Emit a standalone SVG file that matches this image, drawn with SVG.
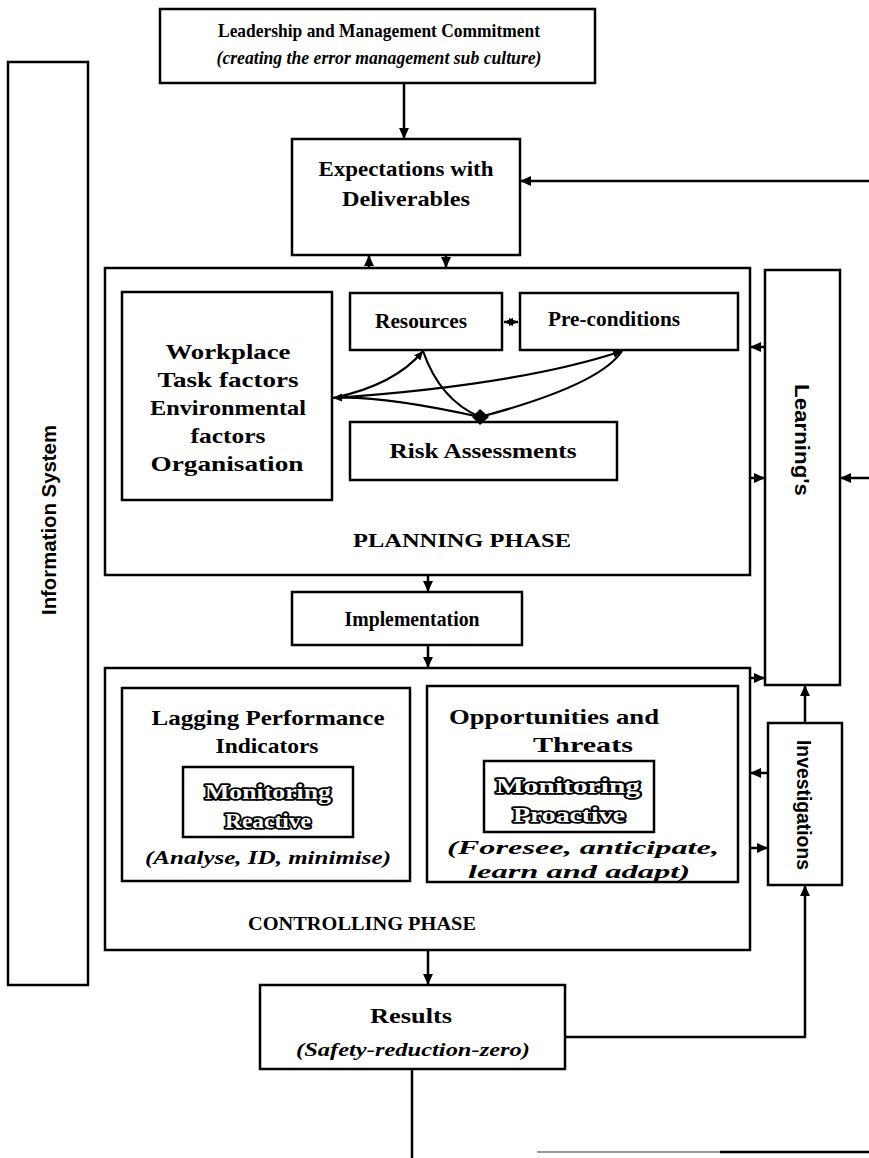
<svg xmlns="http://www.w3.org/2000/svg" width="869" height="1158" viewBox="0 0 869 1158">
  <style>
    .box { fill: #fff; stroke: #000; stroke-width: 2.5; }
    .t { font-family: "Liberation Serif", "Times New Roman", serif; font-weight: bold; font-size: 21px; fill: #000; text-anchor: middle; }
    .tb { font-family: "Liberation Serif", "Times New Roman", serif; font-weight: bold; font-size: 22px; fill: #000; text-anchor: middle; }
    .ts { font-family: "Liberation Serif", "Times New Roman", serif; font-weight: bold; font-size: 19px; fill: #000; text-anchor: middle; }
    .ti { font-family: "Liberation Serif", "Times New Roman", serif; font-weight: bold; font-style: italic; font-size: 19px; fill: #000; text-anchor: middle; }
    .tis { font-family: "Liberation Serif", "Times New Roman", serif; font-weight: bold; font-style: italic; font-size: 18px; fill: #000; text-anchor: middle; }
    .ph { font-family: "Liberation Serif", "Times New Roman", serif; font-weight: bold; font-size: 19px; fill: #000; text-anchor: middle; }
    .side { font-family: "Liberation Sans", Arial, sans-serif; font-weight: bold; font-size: 21px; fill: #000; text-anchor: middle; }
    .mon { font-family: "Liberation Serif", "Times New Roman", serif; font-weight: bold; font-size: 21px; fill: #fff; stroke: #000; stroke-width: 3.5; paint-order: stroke; stroke-linejoin: round; text-anchor: middle; }
    .c { fill: none; stroke: #000; stroke-width: 2.5; }
    .cv { fill: none; stroke: #000; stroke-width: 2.2; }
  </style>
  <defs>
    <marker id="arr" viewBox="0 0 10 10" refX="10" refY="5" markerWidth="11" markerHeight="11" markerUnits="userSpaceOnUse" orient="auto">
      <path d="M0,0.5 L10,5 L0,9.5 z" fill="#000"/>
    </marker>
    <marker id="arrs" viewBox="0 0 10 10" refX="10" refY="5" markerWidth="9" markerHeight="9" markerUnits="userSpaceOnUse" orient="auto-start-reverse">
      <path d="M0,0.5 L10,5 L0,9.5 z" fill="#000"/>
    </marker>
  </defs>

  <rect width="869" height="1158" fill="#fff"/>

  <!-- Left and right side bands -->
  <g id="information-system">
    <rect class="box" x="8" y="62" width="80" height="923"/>
    <text class="side" transform="translate(56,520) rotate(-90)" textLength="190" lengthAdjust="spacingAndGlyphs">Information System</text>
  </g>
  <g id="learnings">
    <rect class="box" x="765" y="270" width="75" height="415"/>
    <text class="side" transform="translate(795,440) rotate(90)" textLength="112" lengthAdjust="spacingAndGlyphs">Learning's</text>
  </g>
  <g id="investigations">
    <rect class="box" x="768" y="723" width="74" height="162"/>
    <text class="side" transform="translate(797,805) rotate(90)" textLength="130" lengthAdjust="spacingAndGlyphs">Investigations</text>
  </g>

  <!-- Top chain -->
  <g id="leadership">
    <rect class="box" x="160" y="9" width="435" height="74"/>
    <text class="ts" x="379" y="37" textLength="322" lengthAdjust="spacingAndGlyphs">Leadership and Management Commitment</text>
    <text class="tis" x="379" y="64" textLength="325" lengthAdjust="spacingAndGlyphs">(creating the error management sub culture)</text>
  </g>
  <g id="expectations">
    <rect class="box" x="292" y="139" width="228" height="116"/>
    <text class="t" x="406" y="176" textLength="175" lengthAdjust="spacingAndGlyphs">Expectations with</text>
    <text class="t" x="406" y="206" textLength="128" lengthAdjust="spacingAndGlyphs">Deliverables</text>
  </g>

  <!-- Planning phase -->
  <g id="planning-phase">
    <rect class="box" x="105" y="268" width="645" height="307"/>
    <text class="ph" x="462" y="547" textLength="218" lengthAdjust="spacingAndGlyphs">PLANNING PHASE</text>
  </g>
  <g id="workplace">
    <rect class="box" x="122" y="292" width="210" height="208"/>
    <text class="tb" x="228" y="359" textLength="125" lengthAdjust="spacingAndGlyphs">Workplace</text>
    <text class="tb" x="228" y="387" textLength="141" lengthAdjust="spacingAndGlyphs">Task factors</text>
    <text class="tb" x="228" y="415" textLength="156" lengthAdjust="spacingAndGlyphs">Environmental</text>
    <text class="tb" x="228" y="443" textLength="75" lengthAdjust="spacingAndGlyphs">factors</text>
    <text class="tb" x="227" y="471" textLength="153" lengthAdjust="spacingAndGlyphs">Organisation</text>
  </g>
  <g id="resources">
    <rect class="box" x="350" y="293" width="152" height="57"/>
    <text class="t" x="421" y="328" textLength="92" lengthAdjust="spacingAndGlyphs">Resources</text>
  </g>
  <g id="preconditions">
    <rect class="box" x="520" y="293" width="218" height="57"/>
    <text class="t" x="614" y="326" textLength="132" lengthAdjust="spacingAndGlyphs">Pre-conditions</text>
  </g>
  <g id="risk-assessments">
    <rect class="box" x="350" y="422" width="267" height="58"/>
    <text class="t" x="483" y="458" textLength="187" lengthAdjust="spacingAndGlyphs">Risk Assessments</text>
  </g>

  <g id="implementation">
    <rect class="box" x="292" y="592" width="230" height="53"/>
    <text class="t" x="412" y="626" textLength="135" lengthAdjust="spacingAndGlyphs">Implementation</text>
  </g>

  <!-- Controlling phase -->
  <g id="controlling-phase">
    <rect class="box" x="105" y="668" width="645" height="282"/>
    <text class="ph" x="362" y="930" textLength="228" lengthAdjust="spacingAndGlyphs">CONTROLLING PHASE</text>
  </g>
  <g id="lagging">
    <rect class="box" x="122" y="688" width="288" height="193"/>
    <text class="t" x="268" y="725" textLength="233" lengthAdjust="spacingAndGlyphs">Lagging Performance</text>
    <text class="t" x="267" y="753" textLength="103" lengthAdjust="spacingAndGlyphs">Indicators</text>
    <rect class="box" x="183" y="767" width="170" height="70"/>
    <text class="mon" x="268" y="799" textLength="126" lengthAdjust="spacingAndGlyphs">Monitoring</text>
    <text class="mon" x="268" y="828" textLength="86" lengthAdjust="spacingAndGlyphs">Reactive</text>
    <text class="ti" x="268" y="864" textLength="246" lengthAdjust="spacingAndGlyphs">(Analyse, ID, minimise)</text>
  </g>
  <g id="opportunities">
    <rect class="box" x="427" y="686" width="311" height="196"/>
    <text class="t" x="554" y="724" textLength="210" lengthAdjust="spacingAndGlyphs">Opportunities and</text>
    <text class="t" x="583" y="752" textLength="100" lengthAdjust="spacingAndGlyphs">Threats</text>
    <rect class="box" x="484" y="761" width="170" height="71"/>
    <text class="mon" x="568" y="793" textLength="144" lengthAdjust="spacingAndGlyphs">Monitoring</text>
    <text class="mon" x="569" y="822" textLength="112" lengthAdjust="spacingAndGlyphs">Proactive</text>
    <text class="ti" x="583" y="854" textLength="272" lengthAdjust="spacingAndGlyphs">(Foresee, anticipate,</text>
    <text class="ti" x="579" y="878" textLength="222" lengthAdjust="spacingAndGlyphs">learn and adapt)</text>
  </g>

  <g id="results">
    <rect class="box" x="260" y="985" width="305" height="84"/>
    <text class="t" x="411" y="1023" textLength="82" lengthAdjust="spacingAndGlyphs">Results</text>
    <text class="ti" x="413" y="1056" textLength="234" lengthAdjust="spacingAndGlyphs">(Safety-reduction-zero)</text>
  </g>

  <!-- Connectors -->
  <g id="connectors">
    <path class="c" d="M404,83 L404,139" marker-end="url(#arr)"/>
    <path class="c" d="M869,181 L520,181" marker-end="url(#arr)"/>
    <path class="c" d="M369,268 L369,255" marker-end="url(#arr)"/>
    <path class="c" d="M446,255 L446,268" marker-end="url(#arr)"/>
    <path class="c" d="M428,575 L428,592" marker-end="url(#arr)"/>
    <path class="c" d="M428,645 L428,668" marker-end="url(#arr)"/>
    <path class="c" d="M765,347 L750,347" marker-end="url(#arr)"/>
    <path class="c" d="M750,478 L765,478" marker-end="url(#arr)"/>
    <path class="c" d="M869,478 L840,478" marker-end="url(#arr)"/>
    <path class="c" d="M750,678 L765,678" marker-end="url(#arr)"/>
    <path class="c" d="M805,723 L805,685" marker-end="url(#arr)"/>
    <path class="c" d="M768,773 L750,773" marker-end="url(#arr)"/>
    <path class="c" d="M750,848 L768,848" marker-end="url(#arr)"/>
    <path class="c" d="M428,950 L428,985" marker-end="url(#arr)"/>
    <path class="c" d="M565,1037 L805,1037 L805,885" marker-end="url(#arr)"/>
    <path class="c" d="M412,1069 L412,1158"/>
    <path d="M537,1152 L720,1152" stroke="#999" stroke-width="2" fill="none"/>
    <path d="M720,1152 L869,1152" stroke="#000" stroke-width="2.5" fill="none"/>

    <!-- links among the planning factors -->
    <path class="c" d="M504,322 L518,322" marker-start="url(#arrs)" marker-end="url(#arrs)"/>
    <path class="cv" d="M480,417 Q380,395 333,398" marker-end="url(#arrs)"/>
    <path class="cv" d="M333,398 Q395,385 423,351" marker-end="url(#arrs)"/>
    <path class="cv" d="M423,351 Q440,400 480,417"/>
    <path class="cv" d="M333,398 Q520,385 622,351" marker-end="url(#arrs)"/>
    <path class="cv" d="M622,351 Q600,385 480,417"/>
    <path d="M472,417 L480,409 L489,417 L480,425 z" fill="#000"/>
  </g>
</svg>
